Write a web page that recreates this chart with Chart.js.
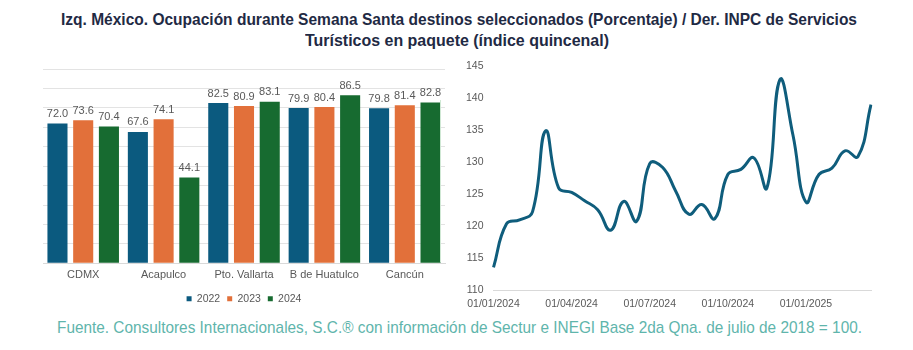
<!DOCTYPE html>
<html>
<head>
<meta charset="utf-8">
<script src="https://cdn.jsdelivr.net/npm/chart.js@4.4.1/dist/chart.umd.min.js"></script>
<style>
  body { margin: 0; background: #fff; width: 913px; height: 350px; position: relative; overflow: hidden; }
  .line {
    position: absolute; white-space: nowrap; transform-origin: 0 0;
    font-family: "Liberation Sans", Arial, sans-serif;
  }
  .title { font-weight: bold; font-size: 17px; color: #1f2a44; }
  .note { font-size: 17px; color: #5fb5ac; }
  .edge { position: absolute; left: 440px; top: 100px; width: 1px; height: 162px; background: #cfe8d4; }
  #left { position: absolute; left: 0; top: 50px; }
  #right { position: absolute; left: 456px; top: 50px; }
</style>
</head>
<body>
<div class="line title" data-x0="61" data-x1="857" style="top:10px">Izq. México. Ocupación durante Semana Santa destinos seleccionados (Porcentaje) / Der. INPC de Servicios</div>
<div class="line title" data-x0="305" data-x1="609" style="top:31px">Turísticos en paquete (índice quincenal)</div>
<canvas id="left" width="455" height="264"></canvas>
<div class="edge"></div>
<canvas id="right" width="440" height="267"></canvas>
<div class="line note" data-x0="57" data-x1="862" style="top:318px">Fuente. Consultores Internacionales, S.C.® con información de Sectur e INEGI Base 2da Qna. de julio de 2018 = 100.</div>
<script>
const destinations = ['CDMX', 'Acapulco', 'Pto. Vallarta', 'B de Huatulco', 'Cancún'];
const years = ['2022', '2023', '2024'];
const occ2022 = [72.0, 67.6, 82.5, 79.9, 79.8];
const occ2023 = [73.6, 74.1, 80.9, 80.4, 81.4];
const occ2024 = [70.4, 44.1, 83.1, 86.5, 82.8];
const barColors = ['#0b5a7f', '#e2703a', '#176b30'];

const fortnights = [
  '01/01/2024', '16/01/2024', '01/02/2024', '16/02/2024', '01/03/2024', '16/03/2024',
  '01/04/2024', '16/04/2024', '01/05/2024', '16/05/2024', '01/06/2024', '16/06/2024',
  '01/07/2024', '16/07/2024', '01/08/2024', '16/08/2024', '01/09/2024', '16/09/2024',
  '01/10/2024', '16/10/2024', '01/11/2024', '16/11/2024', '01/12/2024', '16/12/2024',
  '01/01/2025', '16/01/2025', '01/02/2025', '16/02/2025', '01/03/2025', '16/03/2025'
];
const inpcTour = [
  113.6, 120.4, 121.0, 122.3, 134.9, 126.0,
  125.3, 124.0, 122.6, 119.4, 123.9, 120.8,
  129.8, 129.2, 125.5, 121.9, 123.4, 121.2,
  128.1, 128.9, 130.7, 126.0, 142.9, 134.3,
  123.8, 128.1, 129.1, 131.8, 130.9, 139.0
];
const quarterTicks = ['01/01', '01/04', '01/07', '01/10'];

// narrow headline look: stretch Liberation Sans to the reference span
document.querySelectorAll('.line').forEach(el => {
  const x0 = +el.dataset.x0, x1 = +el.dataset.x1;
  const w = el.getBoundingClientRect().width;
  el.style.left = x0 + 'px';
  el.style.transform = 'scaleX(' + ((x1 - x0) / w) + ')';
});

const grey = '#595959';
const family = '"Liberation Sans", Arial, sans-serif';

const barLabels = {
  id: 'barLabels',
  afterDatasetsDraw(chart) {
    const ctx = chart.ctx;
    ctx.save();
    ctx.font = '11px ' + family;
    ctx.fillStyle = grey;
    ctx.textAlign = 'center';
    ctx.textBaseline = 'bottom';
    chart.data.datasets.forEach((ds, i) => {
      chart.getDatasetMeta(i).data.forEach((bar, j) => {
        ctx.fillText(ds.data[j].toFixed(1), bar.x, bar.y - 4);
      });
    });
    ctx.restore();
  }
};

new Chart(document.getElementById('left'), {
  type: 'bar',
  data: {
    labels: destinations,
    datasets: [occ2022, occ2023, occ2024].map((d, i) => ({
      label: years[i],
      data: d,
      backgroundColor: barColors[i],
      barPercentage: 0.78,
      categoryPercentage: 0.96
    }))
  },
  options: {
    responsive: false,
    animation: false,
    layout: { padding: { left: 43, right: 10, top: 19, bottom: 0 } },
    plugins: {
      legend: {
        position: 'bottom',
        labels: { boxWidth: 5, boxHeight: 5, padding: 7, color: grey, font: { family, size: 10.5 } }
      },
      tooltip: { enabled: false }
    },
    scales: {
      x: {
        grid: { display: false, drawTicks: false },
        border: { color: '#d9d9d9' },
        ticks: { color: grey, font: { family, size: 11 }, padding: 5, maxRotation: 0, autoSkip: false }
      },
      y: {
        min: 0, max: 100,
        ticks: { display: false, stepSize: 10 },
        grid: { color: '#e3e3e3', drawTicks: false },
        border: { display: false }
      }
    }
  },
  plugins: [barLabels]
});

new Chart(document.getElementById('right'), {
  type: 'line',
  data: {
    labels: fortnights,
    datasets: [{
      data: inpcTour,
      borderColor: '#0f5d7c',
      borderWidth: 3,
      pointRadius: 0,
      tension: 0.45,
      fill: false
    }]
  },
  options: {
    responsive: false,
    animation: false,
    layout: { padding: { right: 25, top: 4 } },
    plugins: { legend: { display: false }, tooltip: { enabled: false } },
    scales: {
      x: {
        grid: { display: false, drawTicks: false },
        border: { color: '#d9d9d9' },
        ticks: {
          color: grey, font: { family, size: 10.5 }, maxRotation: 0, autoSkip: false, padding: 7,
          callback(v) {
            const lab = fortnights[v];
            return quarterTicks.includes(lab.slice(0, 5)) ? lab : '';
          }
        }
      },
      y: {
        min: 110, max: 145,
        ticks: { stepSize: 5, color: grey, font: { family, size: 10.5 }, padding: 10 },
        grid: { display: false, drawTicks: false },
        border: { display: false }
      }
    }
  }
});
</script>
</body>
</html>
